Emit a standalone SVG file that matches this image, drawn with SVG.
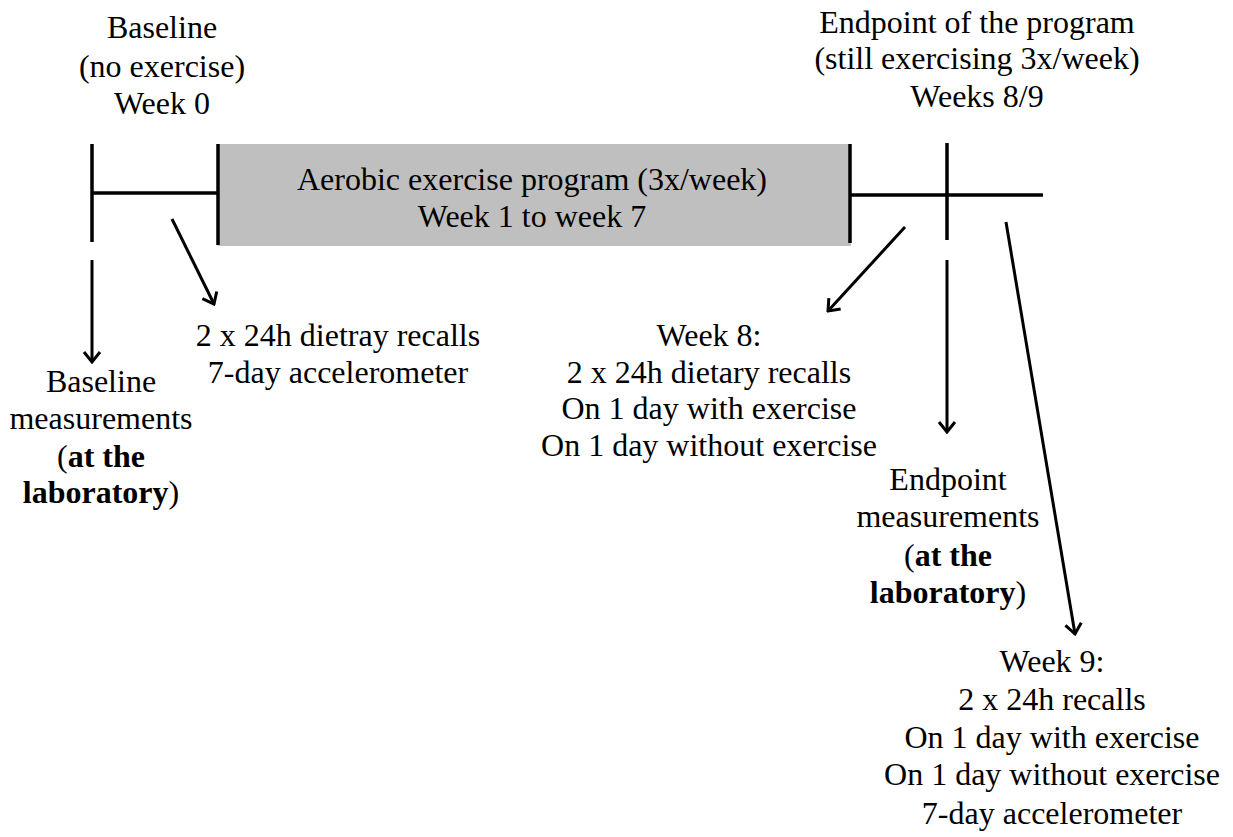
<svg xmlns="http://www.w3.org/2000/svg" width="1233" height="837" viewBox="0 0 1233 837">
<style>
text{font-family:"Liberation Serif","Times New Roman",serif;font-size:32px;fill:#000;text-anchor:middle}
.b{font-weight:bold}
.ln{stroke:#000;stroke-width:3.5;fill:none}
.ar{stroke:#000;stroke-width:3;fill:none;marker-end:url(#ah)}
</style>
<defs>
<marker id="ah" viewBox="-1 -11 14 22" refX="11" refY="0" markerWidth="14" markerHeight="22" markerUnits="userSpaceOnUse" orient="auto">
<path d="M1,-8 L11,0 L1,8" fill="none" stroke="#000" stroke-width="3" stroke-linejoin="miter"/>
</marker>
</defs>
<rect width="1233" height="837" fill="#fff"/>
<g id="program">
<rect x="218" y="144" width="633" height="102" fill="#bfbfbf"/>
<text x="532" y="190">Aerobic exercise program (3x/week)</text>
<text x="532" y="227">Week 1 to week 7</text>
</g>
<g id="connectors">
<line class="ln" x1="92" y1="144" x2="92" y2="242"/>
<line class="ln" x1="92" y1="193" x2="218" y2="193"/>
<line class="ln" x1="218" y1="144" x2="218" y2="245"/>
<line class="ln" x1="850" y1="144" x2="850" y2="243"/>
<line class="ln" x1="850" y1="195" x2="1043" y2="195"/>
<line class="ln" x1="947" y1="143" x2="947" y2="240"/>
<line class="ar" x1="92" y1="260" x2="92" y2="362"/>
<line class="ar" x1="172" y1="219" x2="214" y2="304"/>
<line class="ar" x1="905" y1="227" x2="828" y2="311"/>
<line class="ar" x1="947" y1="260" x2="947" y2="432"/>
<line class="ar" x1="1006" y1="222" x2="1075" y2="634"/>
</g>
<g id="baseline-title">
<text x="162" y="38">Baseline</text>
<text x="162" y="77">(no exercise)</text>
<text x="162" y="114">Week 0</text>
</g>
<g id="endpoint-title">
<text x="977" y="33">Endpoint of the program</text>
<text x="977" y="69">(still exercising 3x/week)</text>
<text x="977" y="107">Weeks 8/9</text>
</g>
<g id="baseline-measurements">
<text x="101" y="392">Baseline</text>
<text x="101" y="429">measurements</text>
<text x="101" y="467">(<tspan class="b">at the</tspan></text>
<text x="101" y="503"><tspan class="b">laboratory</tspan>)</text>
</g>
<g id="baseline-recalls">
<text x="338" y="346">2 x 24h dietray recalls</text>
<text x="338" y="383">7-day accelerometer</text>
</g>
<g id="week8">
<text x="709" y="346">Week 8:</text>
<text x="709" y="383">2 x 24h dietary recalls</text>
<text x="709" y="419">On 1 day with exercise</text>
<text x="709" y="456">On 1 day without exercise</text>
</g>
<g id="endpoint-measurements">
<text x="948" y="490">Endpoint</text>
<text x="948" y="527">measurements</text>
<text x="948" y="566">(<tspan class="b">at the</tspan></text>
<text x="948" y="603"><tspan class="b">laboratory</tspan>)</text>
</g>
<g id="week9">
<text x="1052" y="672">Week 9:</text>
<text x="1052" y="710">2 x 24h recalls</text>
<text x="1052" y="748">On 1 day with exercise</text>
<text x="1052" y="785">On 1 day without exercise</text>
<text x="1052" y="824">7-day accelerometer</text>
</g>
</svg>
